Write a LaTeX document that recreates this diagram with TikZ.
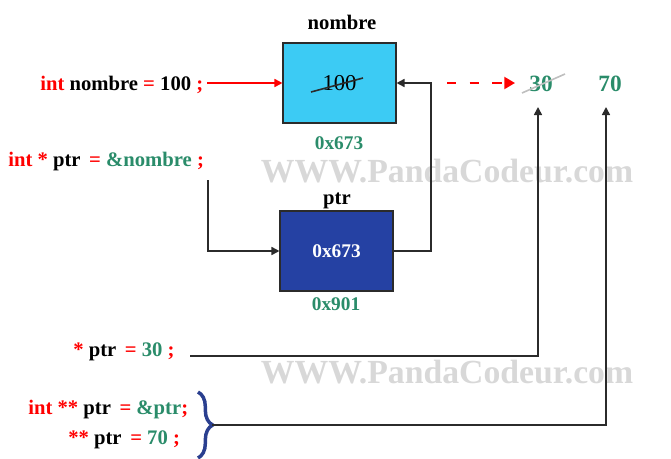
\documentclass[tikz,border=0pt]{standalone}
\usepackage{fontspec}
\setmainfont{Liberation Serif}
\usetikzlibrary{arrows.meta,decorations.pathreplacing}
\definecolor{cgreen}{HTML}{2A8C6A}
\definecolor{cred}{HTML}{FF0000}
\definecolor{ccyan}{HTML}{3CCBF4}
\definecolor{cblue}{HTML}{2541A3}
\definecolor{cbrace}{HTML}{2A3F8F}
\definecolor{cwm}{HTML}{D8D8D8}
\definecolor{cline}{HTML}{2B2B2B}
\tikzset{
  code/.style={anchor=west,inner sep=0pt,font=\fontsize{15.5}{18}\selectfont\bfseries},
  lbl/.style={inner sep=0pt,font=\fontsize{15.5}{18}\selectfont\bfseries},
  addr/.style={inner sep=0pt,font=\fontsize{14.5}{16}\selectfont\bfseries,text=cgreen},
  val/.style={inner sep=0pt,font=\fontsize{17.5}{20}\selectfont\bfseries,text=cgreen},
  cell/.style={draw=cline,line width=0.8pt,minimum width=84.75pt,minimum height=60pt,inner sep=0pt,font=\fontsize{14.5}{16}\selectfont\bfseries},
  conn/.style={draw=cline,line width=1.2pt,-{Triangle[length=6pt,width=6pt]}},
  wm/.style={inner sep=0pt,text=cwm,font=\fontsize{25.3}{28}\selectfont\bfseries}
}
\begin{document}
\begin{tikzpicture}[x=0.75pt,y=-0.75pt]
\useasboundingbox (0,0) rectangle (671,458);
% watermarks
\node[wm] (wm1) at (447,171) {WWW.PandaCodeur.com};
\node[wm] (wm2) at (447,372) {WWW.PandaCodeur.com};
% boxes
\node[cell,fill=ccyan,font=\fontsize{17}{20}\selectfont] (nombre) at (339.5,83) {100};
\draw[cline,line width=1.2pt] (311,92) -- (363,78);
\node[lbl] (lnombre) at (342,22) {nombre};
\node[addr] (anombre) at (339,143) {0x673};
\node[cell,fill=cblue,text=white] (ptrbox) at (336.5,251) {0x673};
\node[lbl] (lptr) at (337,201) {ptr};
\node[addr] (aptr) at (336,304) {0x901};
% values
\node[val] (v30) at (541,84) {30};
\draw[gray!50,line width=1.2pt] (522,93) -- (565,74);
\node[val] (v70) at (610,84) {70};
% code lines
\node[code] (code1) at (40,85) {\textcolor{cred}{int} nombre \textcolor{cred}{=} 100 \textcolor{cred}{;}};
\node[code] (code2) at (8,162) {\textcolor{cred}{int *} ptr\ \,\textcolor{cred}{=} \textcolor{cgreen}{\&nombre} \textcolor{cred}{;}};
\node[code] (code3) at (73,352) {\textcolor{cred}{*} ptr\ \,\textcolor{cred}{=} \textcolor{cgreen}{30} \textcolor{cred}{;}};
\node[code] (code4) at (28,410) {\textcolor{cred}{int **} ptr\ \,\textcolor{cred}{=} \textcolor{cgreen}{\&ptr}\textcolor{cred}{;}};
\node[code] (code5) at (68,440) {\textcolor{cred}{**} ptr\ \,\textcolor{cred}{=} \textcolor{cgreen}{70} \textcolor{cred}{;}};
% brace
\draw[cbrace,line width=2.6pt,decorate,decoration={brace,amplitude=11pt}] (198,392) -- (198,458);
\coordinate (btip) at (212,425);
% connectors
\coordinate (c1) at (207,83);
\draw[draw=cred,line width=1.2pt,-{Triangle[length=6pt,width=6pt]}] (c1) -- (nombre.west);
\coordinate (c2) at (208,180);
\draw[conn] (c2) |- (ptrbox.west);
\draw[conn] (ptrbox.east) -- (431,251) |- (nombre.east);
\coordinate (d1) at (447,83);
\draw[draw=cred,line width=1.5pt,dash pattern=on 7pt off 10pt,-{Triangle[length=8pt,width=9pt]}] (d1) -- (515,83);
\coordinate (c3) at (190,356);
\draw[conn] (c3) -- (538,356) -- (538,107);
\draw[conn] (btip) -- (606,425) -- (606,107);
\end{tikzpicture}
\end{document}
